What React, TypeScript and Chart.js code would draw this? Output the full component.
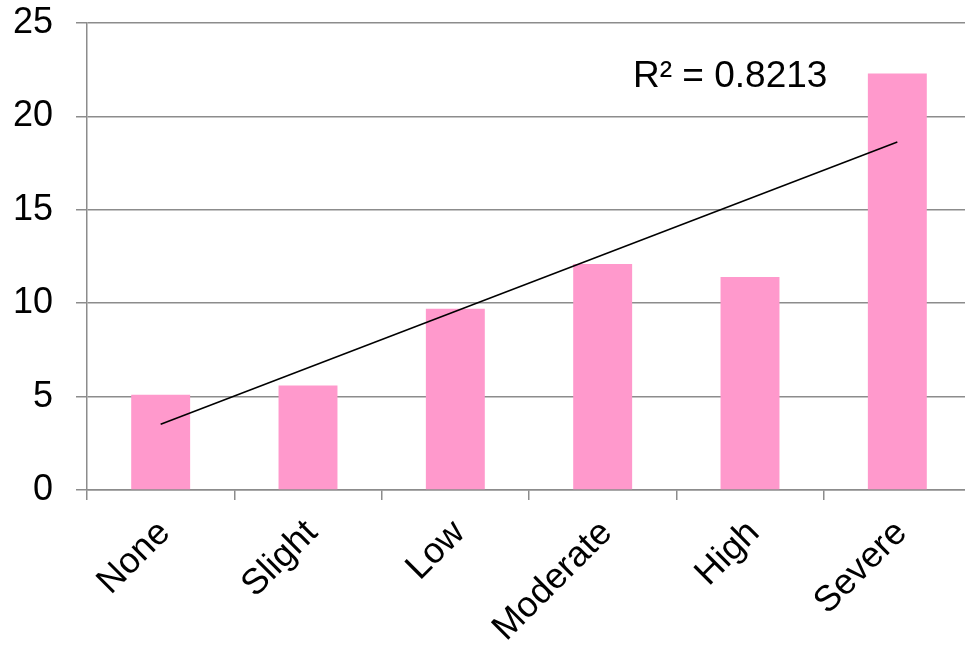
import React, { useEffect, useRef } from "react";
import { Chart, registerables } from "chart.js";

Chart.register(...registerables);

const categories = ["None", "Slight", "Low", "Moderate", "High", "Severe"];
const barValues = [5.1, 5.6, 9.7, 12.1, 11.4, 22.3];
const trendValues: (number | null)[] = [3.52, null, null, null, null, 18.63];
const yTicks = [0, 5, 10, 15, 20, 25];
const rSquaredLabel = "R² = 0.8213";

const FONT = "'Liberation Sans', Arial, sans-serif";

export default function App() {
  const ref = useRef<HTMLCanvasElement | null>(null);

  useEffect(() => {
    if (!ref.current) return;
    const labelPlugin = {
      id: "rsquared",
      afterDatasetsDraw(chart: any) {
        const { ctx } = chart;
        ctx.save();
        ctx.font = `37px ${FONT}`;
        ctx.fillStyle = "#000";
        ctx.textBaseline = "alphabetic";
        ctx.textAlign = "left";
        ctx.fillText(rSquaredLabel, 633, 87);
        ctx.restore();
      },
    };
    const chart = new Chart(ref.current, {
      type: "bar",
      data: {
        labels: categories,
        datasets: [
          {
            type: "line",
            data: trendValues,
            borderColor: "#000",
            borderWidth: 1.5,
            pointRadius: 0,
            spanGaps: true,
            fill: false,
          } as any,
          {
            type: "bar",
            data: barValues,
            backgroundColor: "#FF99CC",
            borderWidth: 0,
            barPercentage: 0.4,
            categoryPercentage: 1.0,
          },
        ],
      },
      options: {
        responsive: false,
        animation: false,
        layout: { padding: { top: 23, right: 4, left: 0, bottom: 0 } },
        plugins: {
          legend: { display: false },
          tooltip: { enabled: false },
        },
        scales: {
          x: {
            offset: true,
            grid: {
              offset: true,
              drawOnChartArea: false,
              drawTicks: true,
              tickLength: 10,
              color: "#8c8c8c",
              lineWidth: 1.5,
            },
            border: { display: true, color: "#8c8c8c", width: 1.5 },
            ticks: {
              font: { family: FONT, size: 36 },
              color: "#000",
              maxRotation: 45,
              minRotation: 45,
              padding: 12,
              labelOffset: 4,
            },
            afterFit(scale: any) {
              scale.height = 158;
              scale.paddingLeft = 0;
              scale.paddingRight = 0;
            },
          },
          y: {
            min: 0,
            max: 25,
            afterBuildTicks(scale: any) {
              scale.ticks = yTicks.map((v) => ({ value: v }));
            },
            grid: {
              color: "#8c8c8c",
              lineWidth: 1.5,
              drawTicks: true,
              tickLength: 11,
            },
            border: { display: true, color: "#8c8c8c", width: 1.5 },
            ticks: {
              font: { family: FONT, size: 36 },
              color: "#000",
              padding: 23,
            },
            afterFit(scale: any) {
              scale.width = 87;
              scale.paddingTop = 0;
              scale.paddingBottom = 0;
            },
          },
        },
      },
      plugins: [labelPlugin],
    });
    return () => chart.destroy();
  }, []);

  return (
    <div
      style={{
        position: "fixed",
        left: 0,
        top: 0,
        width: 965,
        height: 648,
        overflow: "hidden",
        background: "#fff",
      }}
    >
      <canvas ref={ref} width={975} height={648} style={{ display: "block" }} />
    </div>
  );
}
